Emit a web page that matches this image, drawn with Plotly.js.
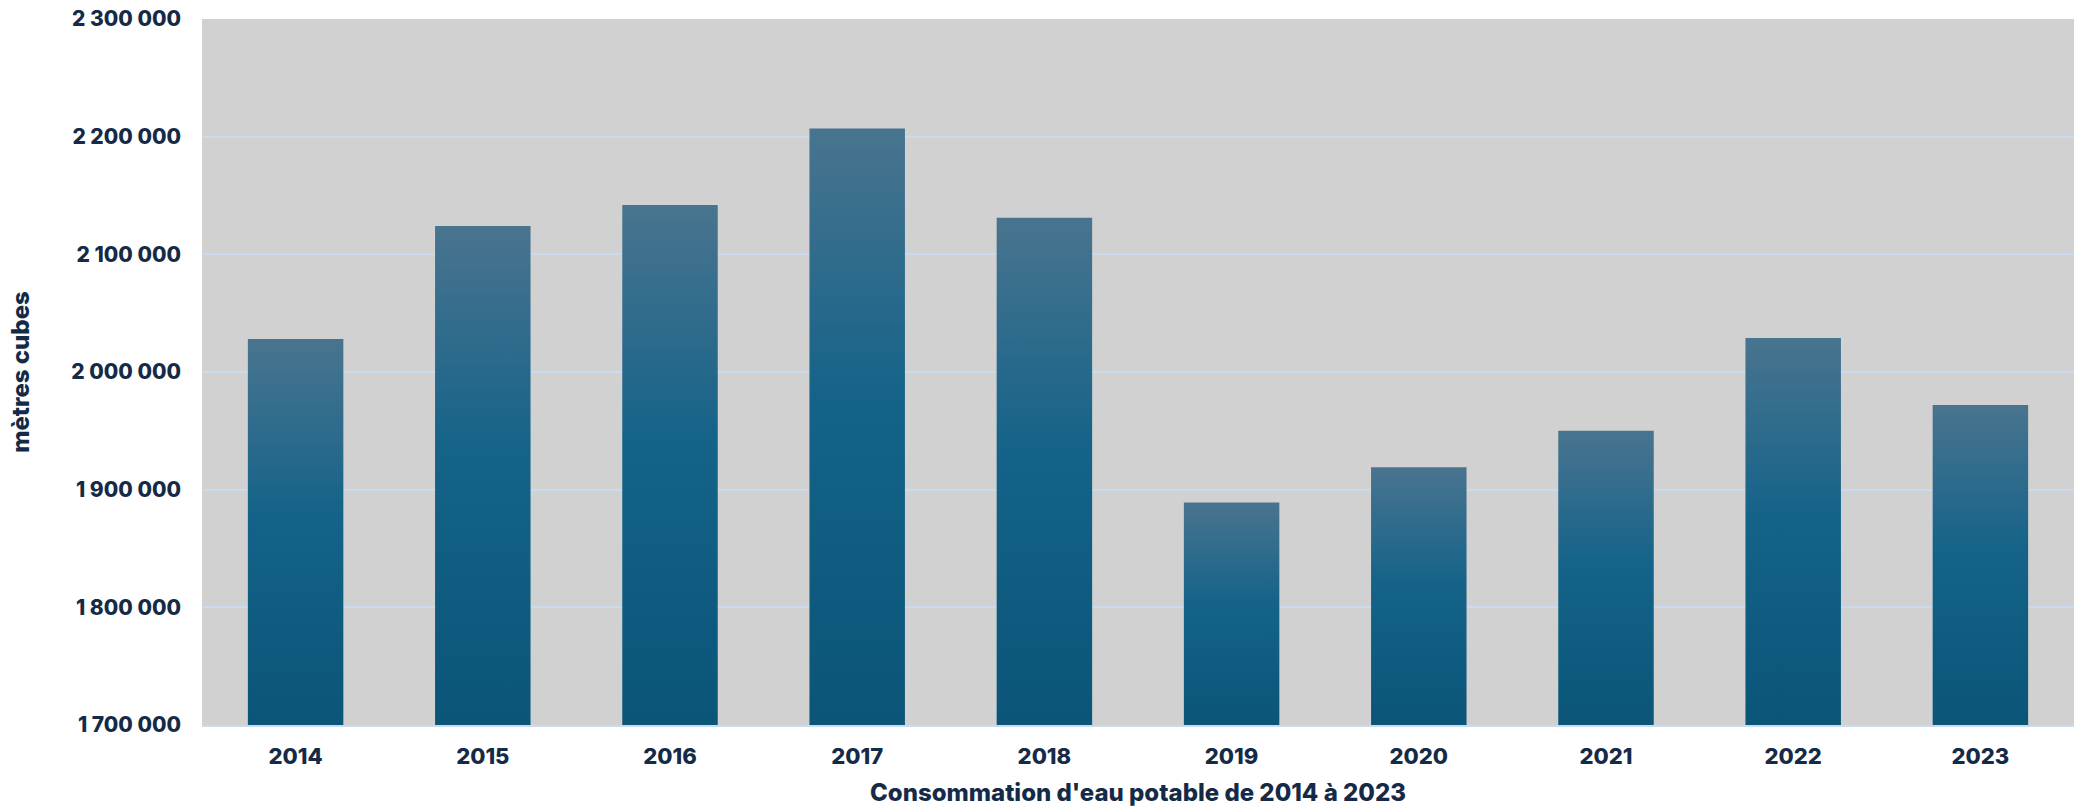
<!DOCTYPE html>
<html>
<head>
<meta charset="utf-8">
<script src="https://cdn.plot.ly/plotly-3.0.1.min.js"></script>
<style>
  html, body { margin: 0; padding: 0; background: #ffffff; }
  #chart { width: 2076px; height: 808px; }
</style>
</head>
<body>
<div id="chart"></div>
<script>
const years = ['2014', '2015', '2016', '2017', '2018', '2019', '2020', '2021', '2022', '2023'];
const consumption = [2028000, 2124000, 2142000, 2207000, 2131000, 1889000, 1919000, 1950000, 2029000, 1972000];
const yTickVals = [1700000, 1800000, 1900000, 2000000, 2100000, 2200000, 2300000];
const xTitle = "Consommation d'eau potable de 2014 à 2023";
const yTitle = 'mètres cubes';

const textColor = '#152a47';
const fontFamily = 'Inter, Roboto, "Liberation Sans", sans-serif';

const trace = {
  type: 'bar',
  x: years,
  y: consumption,
  marker: { color: '#15628a', line: { width: 0 } },
  hoverinfo: 'x+y'
};

const layout = {
  width: 2076,
  height: 808,
  margin: { l: 202, r: 2, t: 19, b: 83 },
  paper_bgcolor: '#ffffff',
  plot_bgcolor: '#d1d1d1',
  separators: ', ',
  bargap: 0.49,
  showlegend: false,
  font: { family: fontFamily, color: textColor, size: 21 },
  xaxis: {
    type: 'category',
    tickfont: { family: fontFamily, size: 22, color: textColor, weight: 800 },
    showgrid: false,
    showline: true,
    linecolor: '#c9dbee',
    linewidth: 2,
    ticks: '',
    ticklabelstandoff: 11,
    title: { text: xTitle, font: { family: fontFamily, size: 24, color: textColor, weight: 800 }, standoff: 16 }
  },
  yaxis: {
    range: [1700000, 2300000],
    tickvals: yTickVals,
    tickformat: ',d',
    tickfont: { family: fontFamily, size: 21, color: textColor, weight: 800 },
    showgrid: true,
    gridcolor: '#c9dbee',
    gridwidth: 2,
    zeroline: false,
    showline: false,
    ticks: '',
    ticklabelstandoff: 20,
    title: { text: yTitle, font: { family: fontFamily, size: 24, color: textColor, weight: 800 }, standoff: 34 }
  }
};

Plotly.newPlot('chart', [trace], layout, { displayModeBar: false, staticPlot: true }).then(function (gd) {
  const svgNS = 'http://www.w3.org/2000/svg';
  const svg = gd.querySelector('svg.main-svg');
  let defs = svg.querySelector('defs');
  if (!defs) { defs = document.createElementNS(svgNS, 'defs'); svg.insertBefore(defs, svg.firstChild); }
  const plotBottom = gd._fullLayout.yaxis._length;
  gd.querySelectorAll('.barlayer .point path').forEach(function (p, i) {
    const bb = p.getBBox();
    const top = bb.y;
    const grad = document.createElementNS(svgNS, 'linearGradient');
    grad.setAttribute('id', 'barGrad' + i);
    grad.setAttribute('gradientUnits', 'userSpaceOnUse');
    grad.setAttribute('x1', '0'); grad.setAttribute('y1', String(top));
    grad.setAttribute('x2', '0'); grad.setAttribute('y2', String(plotBottom));
    [['0', '#49748f'], ['0.45', '#156389'], ['1', '#0a5578']].forEach(function (s) {
      const st = document.createElementNS(svgNS, 'stop');
      st.setAttribute('offset', s[0]);
      st.setAttribute('stop-color', s[1]);
      grad.appendChild(st);
    });
    defs.appendChild(grad);
    p.style.fill = 'url(#barGrad' + i + ')';
  });
});
</script>
</body>
</html>
